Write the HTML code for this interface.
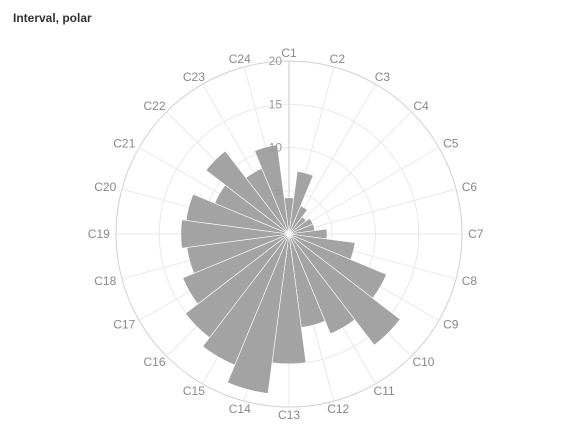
<!DOCTYPE html>
<html><head><meta charset="utf-8"><style>
body{margin:0;background:#fff;width:576px;height:434px;overflow:hidden;font-family:"Liberation Sans",sans-serif}
#title{position:absolute;left:13px;top:11px;font-size:12px;font-weight:bold;color:#333}
</style></head><body>
<div id="title">Interval, polar</div>
<svg id="chart" width="576" height="434" style="position:absolute;left:0;top:0"></svg>
<script>
const categories=["C1","C2","C3","C4","C5","C6","C7","C8","C9","C10","C11","C12","C13","C14","C15","C16","C17","C18","C19","C20","C21","C22","C23","C24"];
const values=[4.2,7.3,3.5,2.5,3,3,4.4,7.7,12.2,16.2,12.5,10.9,15,18.6,16.4,15.1,13.3,11.9,12.5,12,9.3,12.1,8.2,10.4];
const ticks=[5,10,15,20];
const maxV=20;
const cx=289,cy=234,R=173;
const svg=document.getElementById('chart');
const NS='http://www.w3.org/2000/svg';
function mk(t,a){const e=document.createElementNS(NS,t);for(const k in a)e.setAttribute(k,a[k]);svg.appendChild(e);return e;}
function rS(v){return v/maxV*R;}
function ang(i){return i/categories.length*2*Math.PI;}
function pt(a,r){return [cx+r*Math.sin(a),cy-r*Math.cos(a)];}
ticks.forEach(t=>{
  const c=mk('circle',{cx:cx,cy:cy,r:rS(t),fill:'none',stroke:t===maxV?'#d0d0d0':'#e8e8e8','stroke-width':1});
  
  
});
categories.forEach((c,i)=>{
  const [x,y]=pt(ang(i),R);
  const l=mk('line',{x1:cx,y1:cy,x2:x,y2:y,stroke:i===0?'#c8c8c8':'#e8e8e8','stroke-width':1});
  
  
});
const w=2*Math.PI/categories.length;
values.forEach((v,i)=>{
  const a0=ang(i)-w/2,a1=ang(i)+w/2,r=rS(v);
  const [x0,y0]=pt(a0,r),[x1,y1]=pt(a1,r);
  const p=mk('path',{d:`M${cx},${cy}L${x0},${y0}A${r},${r} 0 0 1 ${x1},${y1}Z`,fill:'#a3a3a3',stroke:'#fff','stroke-width':0.6});
  
  
});
categories.forEach((c,i)=>{
  const a=ang(i);
  const hw=c.length*3.4;
  const x=cx+Math.sin(a)*(180+hw);
  const y=cy-Math.cos(a)*181+2;
  const t=mk('text',{x:x,y:y+2,'text-anchor':'middle','font-size':12,fill:'#888'});
  t.textContent=c;
  
  
});
ticks.forEach(v=>{
  const t=mk('text',{x:cx-7,y:cy-rS(v)+4,'text-anchor':'end','font-size':12,fill:'#999'});
  t.textContent=v;
  
  
});
</script>
</body></html>
